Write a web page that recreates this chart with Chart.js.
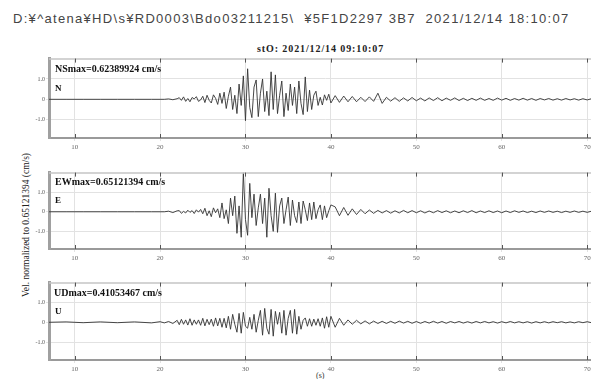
<!DOCTYPE html>
<html>
<head>
<meta charset="utf-8">
<script src="https://cdn.jsdelivr.net/npm/chart.js@4/dist/chart.umd.min.js"></script>
<style>
  html, body { margin: 0; padding: 0; background: #fff; width: 591px; height: 379px; overflow: hidden; position: relative; font-family: "Liberation Serif", serif; }
  .abs { position: absolute; white-space: nowrap; line-height: 1; }
  #head { left: 13px; top: 12px; font-family: "Liberation Sans", sans-serif; font-size: 13px; letter-spacing: 1.3px; color: #444; }
  #title { left: 257px; top: 44px; font-size: 10px; letter-spacing: 0.9px; font-weight: bold; color: #222; }
  .maxlbl { font-size: 10px; font-weight: bold; color: #111; }
  .comp { font-size: 9px; font-weight: bold; color: #111; }
  #ytitle { left: 27px; top: 225px; transform: translate(-50%, -50%) rotate(-90deg); font-size: 9.5px; color: #222; }
  #xtitle { left: 316px; top: 372px; font-size: 8px; color: #333; }
  canvas { position: absolute; left: 0; }
</style>
</head>
<body>
<div id="head" class="abs">D:¥^atena¥HD\s¥RD0003\Bdo03211215\&nbsp; ¥5F1D2297 3B7&nbsp; 2021/12/14 18:10:07</div>
<div id="title" class="abs">stO: 2021/12/14 09:10:07</div>
<div id="ytitle" class="abs">Vel. normalized to 0.65121394 (cm/s)</div>
<div id="xtitle" class="abs">(s)</div>

<canvas id="ns" width="620" height="104" style="top:54px"></canvas>
<canvas id="ew" width="620" height="101" style="top:168px"></canvas>
<canvas id="ud" width="620" height="102" style="top:278px"></canvas>

<div class="abs maxlbl" style="left:55px;top:64px">NSmax=0.62389924 cm/s</div>
<div class="abs comp" style="left:55px;top:84px">N</div>
<div class="abs maxlbl" style="left:55px;top:177px">EWmax=0.65121394 cm/s</div>
<div class="abs comp" style="left:55px;top:196px">E</div>
<div class="abs maxlbl" style="left:54px;top:288px">UDmax=0.41053467 cm/s</div>
<div class="abs comp" style="left:55px;top:307px">U</div>

<script>
// sample times (s)
const timeSec = [
  7.0, 9.0, 11.0, 13.0, 15.0, 17.0, 19.0, 20.0, 20.5, 21.0, 21.5, 22.0,
  22.25, 22.5, 22.75, 23.0, 23.25, 23.5, 23.75, 24.0, 24.25, 24.5, 24.75, 25.0,
  25.25, 25.5, 25.75, 26.0, 26.25, 26.5, 26.75, 27.0, 27.25, 27.5, 27.75, 28.0,
  28.25, 28.5, 28.75, 29.0, 29.25, 29.5, 29.75, 30.0, 30.25, 30.5, 30.75, 31.0,
  31.25, 31.5, 31.75, 32.0, 32.25, 32.5, 32.75, 33.0, 33.25, 33.5, 33.75, 34.0,
  34.25, 34.5, 34.75, 35.0, 35.25, 35.5, 35.75, 36.0, 36.25, 36.5, 36.75, 37.0,
  37.25, 37.5, 37.75, 38.0, 38.25, 38.5, 38.75, 39.0, 39.25, 39.5, 39.75, 40.0,
  40.5, 41.0, 41.5, 42.0, 42.5, 43.0, 43.5, 44.0, 44.5, 45.0,
  45.5, 46.0, 46.5, 47.0, 47.5, 48.0, 48.5, 49.0, 49.5, 50.0,
  50.5, 51.0, 51.5, 52.0, 52.5, 53.0, 53.5, 54.0, 54.5, 55.0,
  55.5, 56.0, 56.5, 57.0, 57.5, 58.0, 58.5, 59.0, 59.5, 60.0,
  60.5, 61.0, 61.5, 62.0, 62.5, 63.0, 63.5, 64.0, 64.5, 65.0,
  65.5, 66.0, 66.5, 67.0, 67.5, 68.0, 68.5, 69.0, 69.5, 70.0, 70.5
];

// normalized velocity, NS component
const nsVel = [
  0, 0, 0, 0, 0, 0, 0, 0, 0, 0.02, -0.02, 0.03,
  0.08, -0.05, 0.12, -0.1, 0.04, -0.12, 0.09, 0.02, 0.13, -0.1, -0.03, 0.15,
  -0.16, 0.2, -0.05, -0.18, 0.22, 0.05, -0.25, 0.3, -0.2, 0.35, -0.45, 0.15,
  0.6, -0.5, 0.2, -0.7, 0.75, -0.3, 1.15, -1.05, 1.5, -0.4, -0.9, 0.6,
  0.95, -0.85, 0.3, 1.0, -0.6, 0.4, -0.8, 1.35, -0.5, 1.2, -0.7, 0.2,
  0.9, -0.85, 0.3, -0.55, 0.75, -0.3, 0.6, -0.7, 0.9, -0.2, -0.75, 1.1,
  -0.6, 0.45, -0.5, 0.2, 0.4, -0.3, 0.1, -0.28, 0.22, -0.05, 0.25, -0.18,
  0.18, -0.15, 0.16, -0.12, 0.14, -0.12, 0.1, -0.11, 0.12, -0.1,
  0.3, -0.2, 0.1, -0.09, 0.08, -0.1, 0.07, -0.08, 0.09, -0.07,
  0.06, -0.08, 0.07, -0.06, 0.08, -0.07, 0.06, -0.05, 0.07, -0.06,
  0.05, -0.06, 0.05, -0.05, 0.06, -0.05, 0.04, -0.05, 0.06, -0.04,
  0.05, -0.05, 0.04, -0.04, 0.05, -0.04, 0.04, -0.05, 0.04, -0.03,
  0.04, -0.04, 0.03, -0.04, 0.04, -0.03, 0.03, -0.04, 0.03, -0.03, 0.03
];

// EW component
const ewVel = [
  0, 0, 0, 0, 0, 0, 0, 0, 0, 0.03, -0.04, 0.05,
  0.06, -0.08, 0.02, -0.06, 0.08, -0.03, 0.06, -0.09, 0.1, -0.02, 0.12, -0.1,
  0.18, -0.2, 0.05, -0.25, 0.2, -0.05, 0.15, -0.3, 0.45, -0.35, 0.1, -0.6,
  0.7, -0.2, 0.8, -1.1, 0.3, -1.3, 2.0, -0.4, -1.2, 1.45, -0.3, 0.9,
  -0.7, 0.2, 0.9, -0.6, 0.7, -1.3, 1.2, -0.2, -1.0, 0.95, -1.05, 0.3,
  0.7, -0.6, 0.1, 0.75, -0.7, 0.6, -0.2, -0.55, 0.5, -0.6, 0.55, 0.1,
  -0.45, 0.45, -0.4, 0.5, -0.35, 0.1, 0.35, -0.4, 0.3, -0.3, 0.05, 0.35,
  0.25, -0.2, 0.22, -0.18, 0.15, -0.14, 0.12, -0.1, 0.09, -0.08,
  0.07, -0.06, 0.06, -0.07, 0.05, -0.06, 0.07, -0.05, 0.06, -0.05,
  0.05, -0.06, 0.04, -0.05, 0.06, -0.04, 0.05, -0.05, 0.04, -0.05,
  0.05, -0.04, 0.06, -0.05, 0.04, -0.04, 0.05, -0.04, 0.04, -0.05,
  0.04, -0.04, 0.05, -0.03, 0.04, -0.04, 0.03, -0.04, 0.04, -0.03,
  0.04, -0.03, 0.03, -0.04, 0.03, -0.03, 0.04, -0.03, 0.03, -0.03, 0.03
];

// UD component
const udVel = [
  0, 0.02, -0.02, 0.02, -0.02, 0.02, -0.03, 0.03, -0.03, 0.04, -0.06, 0.1,
  -0.12, 0.15, -0.1, 0.12, -0.14, 0.18, -0.15, 0.12, -0.1, 0.12, -0.15, 0.2,
  -0.18, 0.15, -0.12, 0.16, -0.2, 0.22, -0.18, 0.2, -0.25, 0.2, -0.28, 0.3,
  -0.35, 0.4, -0.1, -0.5, 0.45, -0.55, 0.5, -0.2, -0.3, 0.25, -0.35, 0.4,
  -0.5, 0.1, 0.6, -0.65, 0.7, -0.3, -0.6, 0.65, -0.7, 0.55, -0.1, 0.5,
  -0.55, 0.6, -0.65, 0.2, 0.6, -0.55, 0.65, -0.6, 0.3, -0.35, 0.1, 0.22,
  -0.2, 0.18, -0.2, 0.16, -0.15, 0.18, -0.2, 0.22, -0.3, 0.28, -0.25, 0.3,
  -0.25, 0.2, -0.15, 0.12, -0.1, 0.1, -0.08, 0.07, -0.08, 0.06,
  -0.06, 0.05, -0.06, 0.05, -0.05, 0.06, -0.04, 0.05, -0.05, 0.04,
  -0.05, 0.04, -0.04, 0.05, -0.04, 0.04, -0.05, 0.04, -0.03, 0.04,
  -0.04, 0.03, -0.04, 0.04, -0.03, 0.04, -0.03, 0.03, -0.04, 0.03,
  -0.03, 0.04, -0.03, 0.03, -0.03, 0.03, -0.04, 0.03, -0.03, 0.03,
  -0.03, 0.03, -0.02, 0.03, -0.03, 0.02, -0.03, 0.03, -0.02, 0.03, -0.02
];

const xTickSec = [10, 20, 30, 40, 50, 60, 70];
const yTickVal = [-1, 0, 1];

// top frame line + short inner tick marks
const frameTicks = {
  id: 'frameTicks',
  afterDatasetsDraw(chart) {
    const { ctx, chartArea: a, scales: { x } } = chart;
    ctx.save();
    ctx.strokeStyle = '#c4c4c4';
    ctx.lineWidth = 1.5;
    ctx.beginPath();
    ctx.moveTo(a.left, a.top + 0.5);
    ctx.lineTo(a.right, a.top + 0.5);
    ctx.stroke();
    ctx.strokeStyle = '#555';
    ctx.lineWidth = 1;
    x.ticks.forEach(t => {
      const px = Math.round(x.getPixelForValue(t.value)) + 0.5;
      ctx.beginPath();
      ctx.moveTo(px, a.top);
      ctx.lineTo(px, a.top + 4);
      ctx.moveTo(px, a.bottom);
      ctx.lineTo(px, a.bottom - 4);
      ctx.stroke();
    });
    ctx.restore();
  }
};

function makePanel(id, values) {
  const pts = timeSec.map((t, i) => ({ x: t, y: values[i] }));
  return new Chart(document.getElementById(id), {
    type: 'line',
    data: {
      datasets: [{
        data: pts,
        borderColor: '#333',
        borderWidth: 0.9,
        pointRadius: 0,
        tension: 0
      }]
    },
    options: {
      responsive: false,
      animation: false,
      devicePixelRatio: 1,
      layout: { padding: { top: 4, right: 20, left: 0, bottom: 0 } },
      plugins: { legend: { display: false }, tooltip: { enabled: false } },
      scales: {
        x: {
          type: 'linear',
          min: 7,
          max: 71.5,
          afterBuildTicks: s => { s.ticks = xTickSec.map(v => ({ value: v })); },
          afterFit: s => { s.height = 20; },
          border: { color: '#9a9a9a', width: 2 },
          grid: { color: '#e2e2e2', tickLength: 3 },
          ticks: { font: { family: 'Liberation Serif', size: 7 }, color: '#666', padding: 2, maxRotation: 0 }
        },
        y: {
          min: -1.9,
          max: 2,
          afterBuildTicks: s => { s.ticks = yTickVal.map(v => ({ value: v })); },
          afterFit: s => { s.width = 49; },
          border: { color: '#a0a0a0', width: 3 },
          grid: { color: '#e2e2e2', tickLength: 3 },
          ticks: {
            font: { family: 'Liberation Serif', size: 6 },
            color: '#555',
            padding: 1,
            callback: v => v === 0 ? '0' : v.toFixed(1)
          }
        }
      }
    },
    plugins: [frameTicks]
  });
}

makePanel('ns', nsVel);
makePanel('ew', ewVel);
makePanel('ud', udVel);
</script>
</body>
</html>
